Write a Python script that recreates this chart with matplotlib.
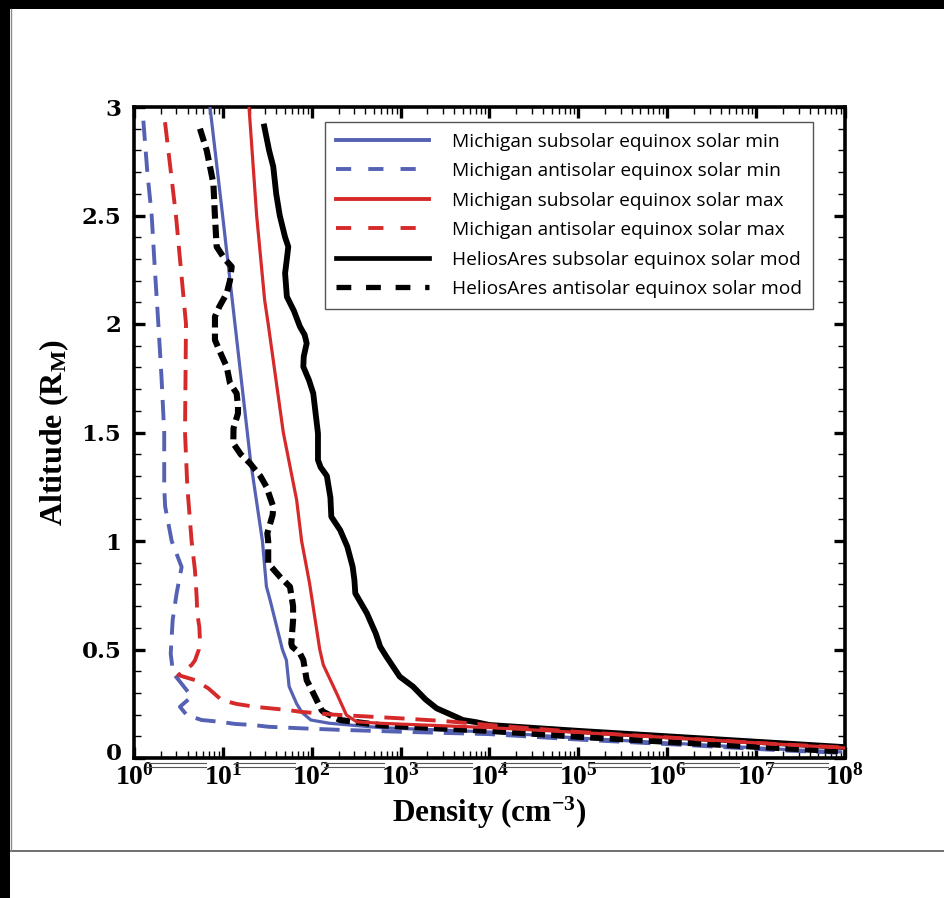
import numpy as np
import matplotlib
matplotlib.use("Agg")
import matplotlib.pyplot as plt
from matplotlib.lines import Line2D
from matplotlib.patches import Rectangle
from matplotlib.font_manager import FontProperties
from matplotlib.ticker import FixedLocator, FuncFormatter, MultipleLocator, LogLocator, NullFormatter

plt.rcParams["mathtext.fontset"] = "custom"
plt.rcParams["mathtext.rm"] = "Liberation Serif:bold"
plt.rcParams["mathtext.it"] = "Liberation Serif:bold"
plt.rcParams["mathtext.bf"] = "Liberation Serif:bold"

# ---- density profiles: altitude (R_M) vs log10 density (cm^-3) ----
mich_sub_min_alt = [3.05, 3.0, 2.5, 2.0, 1.5, 1.373, 1.0, 0.79, 0.73, 0.5, 0.45, 0.33, 0.25,
                    0.21, 0.175, 0.16, 0.14, 0.12, 0.092, 0.065, 0.04, 0.028]
mich_sub_min_logn = [0.84, 0.855, 0.997, 1.136, 1.275, 1.31, 1.445, 1.49, 1.53, 1.67, 1.715,
                     1.745, 1.83, 1.89, 1.99, 2.2, 2.77, 4.0, 5.0, 6.2, 7.3, 7.95]

mich_anti_min_alt = [2.937, 2.7, 2.5, 2.25, 2.0, 1.75, 1.5, 1.25, 1.16, 1.0, 0.88, 0.76, 0.636,
                     0.48, 0.444, 0.39, 0.352, 0.283, 0.236, 0.198, 0.175, 0.167, 0.157, 0.152,
                     0.144, 0.14, 0.137, 0.13, 0.121, 0.11, 0.085, 0.06, 0.035, 0.024]
mich_anti_min_logn = [0.105, 0.15, 0.199, 0.235, 0.274, 0.31, 0.34, 0.34, 0.35, 0.424, 0.536,
                      0.48, 0.435, 0.413, 0.424, 0.442, 0.517, 0.649, 0.517, 0.593, 0.761, 0.967,
                      1.136, 1.342, 1.51, 1.717, 1.87, 2.3, 3.0, 4.0, 5.0, 6.2, 7.3, 7.95]

mich_sub_max_alt = [3.05, 3.0, 2.5, 2.11, 2.0, 1.5, 1.189, 1.0, 0.806, 0.5, 0.429, 0.298, 0.198,
                    0.167, 0.16, 0.14, 0.118, 0.09, 0.065, 0.046]
mich_sub_max_logn = [1.28, 1.294, 1.38, 1.47, 1.51, 1.68, 1.83, 1.886, 1.975, 2.09, 2.13, 2.28,
                     2.39, 2.505, 2.77, 4.0, 5.0, 6.2, 7.2, 8.0]

mich_anti_max_alt = [2.93, 2.5, 2.0, 1.5, 1.25, 1.0, 0.865, 0.742, 0.666, 0.604, 0.544, 0.5,
                     0.45, 0.429, 0.382, 0.359, 0.321, 0.267, 0.249, 0.236, 0.229, 0.221, 0.213,
                     0.2, 0.183, 0.17, 0.145, 0.12, 0.09, 0.065, 0.048]
mich_anti_max_logn = [0.349, 0.472, 0.585, 0.574, 0.6, 0.648, 0.686, 0.705, 0.712, 0.735, 0.742,
                      0.73, 0.686, 0.649, 0.499, 0.686, 0.836, 0.986, 1.155, 1.36, 1.53, 1.736,
                      1.87, 2.24, 2.99, 3.5, 4.2, 5.0, 6.2, 7.2, 8.0]

helios_sub_alt = [2.91, 2.80, 2.725, 2.6, 2.5, 2.4, 2.356, 2.3, 2.234, 2.126, 2.06, 1.988, 1.95,
                  1.911, 1.85, 1.803, 1.74, 1.68, 1.6, 1.496, 1.373, 1.34, 1.30, 1.2, 1.112,
                  1.05, 0.974, 0.882, 0.82, 0.759, 0.667, 0.574, 0.513, 0.467, 0.375, 0.329,
                  0.27, 0.229, 0.19, 0.175, 0.165, 0.152, 0.125, 0.095, 0.07, 0.05]
helios_sub_logn = [1.466, 1.52, 1.567, 1.60, 1.64, 1.70, 1.736, 1.72, 1.70, 1.72, 1.80, 1.867,
                   1.92, 1.943, 1.91, 1.905, 1.97, 2.017, 2.04, 2.07, 2.07, 2.10, 2.17, 2.21,
                   2.22, 2.32, 2.40, 2.46, 2.48, 2.49, 2.62, 2.72, 2.77, 2.84, 2.99, 3.14, 3.28,
                   3.405, 3.62, 3.70, 3.85, 4.0, 5.0, 6.2, 7.2, 8.0]

helios_anti_alt = [2.90, 2.80, 2.648, 2.494, 2.356, 2.30, 2.264, 2.2, 2.141, 2.08, 2.034, 1.926,
                   1.86, 1.803, 1.727, 1.68, 1.619, 1.588, 1.52, 1.45, 1.40, 1.358, 1.30, 1.25,
                   1.158, 1.12, 1.035, 1.0, 0.897, 0.836, 0.789, 0.70, 0.636, 0.528, 0.513,
                   0.482, 0.452, 0.359, 0.313, 0.283, 0.221, 0.213, 0.19, 0.175, 0.15, 0.125,
                   0.098, 0.07, 0.045, 0.03]
helios_anti_logn = [0.742, 0.818, 0.893, 0.911, 0.93, 1.02, 1.099, 1.08, 1.043, 0.96, 0.911,
                    0.911, 0.98, 1.043, 1.08, 1.155, 1.17, 1.17, 1.12, 1.117, 1.20, 1.305, 1.42,
                    1.49, 1.567, 1.56, 1.50, 1.51, 1.51, 1.64, 1.755, 1.79, 1.79, 1.77, 1.78,
                    1.867, 1.905, 1.943, 2.0, 2.036, 2.11, 2.13, 2.24, 2.32, 2.8, 4.0, 5.0, 6.2,
                    7.3, 8.0]

series_labels = ["Michigan subsolar equinox solar min",
                 "Michigan antisolar equinox solar min",
                 "Michigan subsolar equinox solar max",
                 "Michigan antisolar equinox solar max",
                 "HeliosAres subsolar equinox solar mod",
                 "HeliosAres antisolar equinox solar mod"]

x_decades = list(range(0, 9))
y_ticks = [0, 0.5, 1, 1.5, 2, 2.5, 3]
y_ticklabels = ["0", "0.5", "1", "1.5", "2", "2.5", "3"]

BLUE = "#5561b3"
RED = "#d62a2a"
BLACK = "#000000"

W, H = 945, 898
fig = plt.figure(figsize=(W / 100, H / 100), dpi=100)
fig.patch.set_facecolor("white")

# page frame around the figure
fig.add_artist(Line2D([10.5 / W, 1.0], [1 - 851 / H] * 2, transform=fig.transFigure,
                      color="#6e6e6e", lw=1.4))
fig.add_artist(Line2D([11 / W] * 2, [1 - 851 / H, 1 - 9 / H], transform=fig.transFigure,
                      color="#8a8a8a", lw=1.0))
fig.add_artist(Rectangle((0, 1 - 9 / H), 1, 9 / H, transform=fig.transFigure,
                         facecolor="black", edgecolor="none"))
fig.add_artist(Rectangle((0, 0), 10 / W, 1, transform=fig.transFigure,
                         facecolor="black", edgecolor="none"))

ax = fig.add_axes([134 / W, 1 - 758 / H, (845 - 134) / W, (758 - 107) / H])

def dens(logn):
    return 10.0 ** np.asarray(logn)

DASH = (0, (5.2, 2.8))
HEAVY_DASH = (0, (2.2, 1.0))

ax.plot(dens(mich_anti_min_logn), mich_anti_min_alt, color=BLUE, lw=2.8,
        linestyle=DASH, zorder=3)
ax.plot(dens(mich_sub_min_logn), mich_sub_min_alt, color=BLUE, lw=2.3, zorder=4)
ax.plot(dens(helios_anti_logn), helios_anti_alt, color=BLACK, lw=4.4,
        linestyle=HEAVY_DASH, zorder=5)
ax.plot(dens(helios_sub_logn), helios_sub_alt, color=BLACK, lw=4.2, zorder=5)
ax.plot(dens(mich_sub_max_logn), mich_sub_max_alt, color=RED, lw=2.3, zorder=6)
ax.plot(dens(mich_anti_max_logn), mich_anti_max_alt, color=RED, lw=2.8,
        linestyle=DASH, zorder=7)

ax.set_xscale("log")
ax.set_xlim(1, 1e8)
ax.set_ylim(0, 3)

ax.xaxis.set_major_locator(FixedLocator([10.0 ** d for d in x_decades]))
ax.xaxis.set_major_formatter(FuncFormatter(lambda v, p: r"$10^{%d}$" % round(np.log10(v))))
ax.xaxis.set_minor_locator(LogLocator(base=10, subs=np.arange(2, 10), numticks=20))
ax.xaxis.set_minor_formatter(NullFormatter())

# the zero label sits a little above the corner, drawn separately
ax.yaxis.set_major_locator(FixedLocator(y_ticks))
ax.set_yticklabels([""] + y_ticklabels[1:])
ax.yaxis.set_minor_locator(MultipleLocator(0.1))
ytick_font = FontProperties(family="DejaVu Serif", weight="bold", size=16.5)
for lab in ax.get_yticklabels():
    lab.set_fontproperties(ytick_font)
ax.annotate(y_ticklabels[0], xy=(0, 0), xycoords="axes fraction",
            xytext=(-8.5, 3), textcoords="offset points", ha="right", va="center",
            fontproperties=ytick_font)

for sp in ax.spines.values():
    sp.set_linewidth(2.6)
ax.tick_params(which="both", direction="in", top=True, right=True)
ax.tick_params(which="major", length=8, width=2.4)
ax.tick_params(which="minor", length=5, width=1.0)
ax.tick_params(axis="x", which="major", labelsize=20, pad=3)
ax.tick_params(axis="y", which="major", pad=9)

ax.set_xlabel(r"Density (cm$^{-3}$)", fontsize=22.5, fontfamily="Liberation Serif",
              fontweight="bold", labelpad=3)
ax.set_ylabel(r"Altitude (R$_{\rm M}$)", fontsize=23, fontfamily="Liberation Serif",
              fontweight="bold", labelpad=8)

# legend keys with their own, wider dash spacing
LEG_DASH = (0, (3.9, 4.4))
LEG_HEAVY_DASH = (0, (2.8, 2.8))
legend_handles = [
    Line2D([], [], color=BLUE, lw=2.8),
    Line2D([], [], color=BLUE, lw=2.8, linestyle=LEG_DASH),
    Line2D([], [], color=RED, lw=2.8),
    Line2D([], [], color=RED, lw=2.8, linestyle=LEG_DASH),
    Line2D([], [], color=BLACK, lw=3.4),
    Line2D([], [], color=BLACK, lw=3.8, linestyle=LEG_HEAVY_DASH),
]
leg = ax.legend(legend_handles, series_labels,
                loc="upper left", bbox_to_anchor=(325 / W, 1 - 122 / H),
                bbox_transform=fig.transFigure, borderaxespad=0,
                prop={"family": "Open Sans", "size": 13.8},
                handlelength=4.9, handletextpad=1.2, labelspacing=0.6,
                borderpad=0.55, fancybox=False, framealpha=1, edgecolor="#555555")
leg.get_frame().set_linewidth(1.0)
leg.set_zorder(10)

# double rules between the decade labels
fig.canvas.draw()
for d in x_decades[:-1]:
    x0 = ax.transData.transform((10.0 ** d, 0))[0]
    x1 = ax.transData.transform((10.0 ** (d + 1), 0))[0]
    for yy in (763, 766.5):
        fig.add_artist(Line2D([(x0 + 12) / W, (x1 - 17) / W], [1 - yy / H] * 2,
                              transform=fig.transFigure, color="#555555", lw=0.8))

fig.savefig("out.png", dpi=100)
